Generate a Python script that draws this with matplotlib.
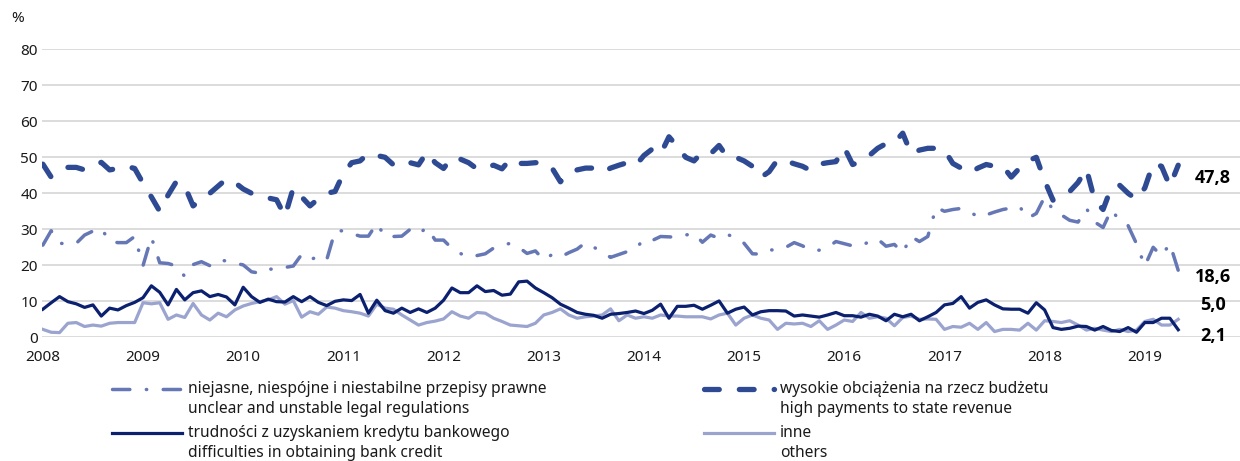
import matplotlib
matplotlib.use('Agg')
import matplotlib.pyplot as plt
from matplotlib.lines import Line2D
import numpy as np

plt.rcParams['font.family'] = ['Noto Sans', 'DejaVu Sans']

# monthly data, Jan 2008 - May 2019
years = list(range(2008, 2020))

niejasne = [25.6, 29.6, 26.1, 26.0, 26.1, 28.4, 29.5, 30.3, 26.6, 26.3, 26.3, 28.0,
            19.9, 27.8, 20.7, 20.5, 19.8, 16.9, 20.2, 21.0, 19.9, 21.5, 21.2, 20.6,
            20.1, 18.2, 17.8, 19.0, 18.8, 19.4, 19.8, 23.0, 21.5, 22.5, 21.5, 29.5,
            29.6, 28.8, 28.1, 28.1, 31.6, 28.0, 28.0, 28.1, 30.0, 28.7, 30.5, 27.0,
            27.0, 24.7, 23.3, 22.3, 22.7, 23.2, 24.8, 25.6, 26.1, 25.0, 23.3, 24.0,
            21.5, 23.0, 22.3, 23.5, 24.5, 26.3, 25.0, 23.8, 22.2, 23.0, 23.8, 24.6,
            27.2, 26.9, 28.0, 27.9, 27.8, 28.4, 28.9, 26.4, 28.4, 27.5, 28.5, 27.8,
            26.1, 23.2, 23.1, 24.3, 24.2, 25.0, 26.3, 25.4, 24.1, 24.2, 25.0, 26.6,
            26.0, 25.4, 25.4, 26.6, 27.3, 25.3, 25.8, 23.5, 28.0, 26.6, 28.0, 36.1,
            35.0, 35.5, 35.8, 35.0, 33.4, 34.0, 34.8, 35.5, 35.9, 36.3, 33.1, 34.4,
            39.0, 35.4, 34.0, 32.5, 32.0, 35.8, 32.0, 30.5, 35.5, 32.3, 31.0, 26.0,
            19.8, 25.0, 22.6, 26.0, 18.6]

wysokie = [48.1, 44.5, 46.0, 47.2, 47.2, 46.5, 47.5, 48.6, 46.5, 46.9, 47.5, 46.9,
           42.8, 39.0, 35.0, 39.5, 43.3, 42.0, 36.5, 38.3, 40.0, 42.0, 44.0, 43.0,
           41.2, 40.0, 39.3, 38.7, 38.2, 33.6, 41.5, 39.0, 36.5, 38.5, 40.0, 40.5,
           45.5, 48.5, 49.0, 51.1, 50.5, 50.0, 47.9, 49.0, 48.5, 47.9, 51.4, 48.5,
           46.9, 50.0, 49.5, 48.5, 46.8, 47.3, 47.8, 46.8, 49.5, 48.3, 48.3, 48.5,
           48.6, 47.0, 43.2, 45.7, 46.5, 47.0, 47.0, 45.8, 47.0, 47.8, 48.5, 47.7,
           50.5, 52.3, 50.9, 55.7, 53.0, 50.0, 49.0, 51.5, 51.0, 53.3, 50.0, 50.0,
           49.0, 47.5, 44.4, 46.0, 49.3, 49.0, 48.2, 47.5, 46.3, 48.1, 48.5, 48.8,
           52.7, 48.0, 48.8, 50.5, 52.5, 53.8, 54.1, 56.7, 51.0, 52.0, 52.5, 52.5,
           52.0, 48.3, 47.0, 45.6, 47.0, 48.0, 47.5, 47.5, 44.5, 47.0, 49.0, 50.0,
           43.5, 38.1, 39.0, 40.5, 43.0, 46.8, 38.0, 35.5, 41.7, 42.2, 40.0, 38.3,
           41.5, 48.3, 47.5, 42.0, 47.8]

kredyt = [7.8, 9.6, 11.3, 9.9, 9.3, 8.3, 9.0, 5.9, 8.1, 7.6, 8.8, 9.7,
          11.0, 14.3, 12.5, 9.0, 13.3, 10.4, 12.4, 12.9, 11.3, 11.9, 11.2, 9.0,
          13.9, 11.3, 9.7, 10.6, 9.9, 9.8, 11.3, 9.9, 11.3, 9.7, 8.8, 10.0,
          10.4, 10.2, 11.9, 6.7, 10.3, 7.4, 6.7, 8.1, 6.9, 7.9, 6.9, 8.1,
          10.3, 13.7, 12.4, 12.4, 14.3, 12.7, 13.0, 11.7, 12.0, 15.4, 15.6, 13.7,
          12.4, 11.0, 9.2, 8.1, 6.9, 6.4, 6.1, 5.3, 6.4, 6.6, 6.9, 7.3,
          6.6, 7.5, 9.2, 5.3, 8.6, 8.6, 8.9, 7.8, 8.9, 10.1, 6.7, 7.8,
          8.4, 6.2, 7.1, 7.4, 7.4, 7.3, 5.9, 6.2, 5.9, 5.6, 6.2, 6.9,
          6.0, 6.0, 5.6, 6.4, 5.9, 4.6, 6.4, 5.7, 6.4, 4.6, 5.7, 6.9,
          9.0, 9.4, 11.3, 8.1, 9.7, 10.4, 9.0, 7.9, 7.8, 7.8, 6.7, 9.6,
          7.6, 2.7, 2.2, 2.5, 3.1, 3.0, 2.0, 3.0, 1.9, 1.6, 2.7, 1.4,
          4.1, 4.1, 5.3, 5.3, 2.1]

inne = [2.2, 1.4, 1.3, 3.9, 4.1, 3.0, 3.4, 3.1, 3.9, 4.1, 4.1, 4.1,
        9.6, 9.3, 9.6, 5.0, 6.2, 5.5, 9.4, 6.2, 4.8, 6.7, 5.7, 7.6,
        8.7, 9.4, 9.9, 10.4, 11.3, 9.2, 10.2, 5.6, 7.1, 6.4, 8.4, 8.1,
        7.4, 7.1, 6.7, 5.9, 9.2, 8.1, 7.8, 6.2, 4.8, 3.4, 4.1, 4.5,
        5.1, 7.1, 5.9, 5.3, 6.9, 6.7, 5.3, 4.4, 3.4, 3.2, 3.0, 3.9,
        6.2, 6.9, 7.9, 6.2, 5.3, 5.7, 5.9, 6.2, 7.9, 4.6, 6.2, 5.3,
        5.7, 5.3, 6.2, 5.9, 5.9, 5.7, 5.7, 5.7, 5.1, 6.2, 6.7, 3.4,
        5.3, 6.2, 5.3, 4.8, 2.2, 3.9, 3.7, 3.9, 3.0, 4.6, 2.2, 3.4,
        4.8, 4.4, 6.9, 5.3, 5.7, 5.3, 3.2, 5.5, 5.9, 5.0, 5.1, 5.0,
        2.2, 3.0, 2.8, 3.9, 2.2, 4.1, 1.6, 2.2, 2.2, 2.0, 3.9, 2.0,
        4.6, 4.4, 4.1, 4.6, 3.4, 2.0, 2.5, 2.0, 1.6, 2.2, 1.6, 2.0,
        4.4, 5.0, 3.4, 3.4, 5.0]

labels_pl = ['niejasne, niespójne i niestabilne przepisy prawne',
             'wysokie obciążenia na rzecz budżetu',
             'trudności z uzyskaniem kredytu bankowego',
             'inne']
labels_en = ['unclear and unstable legal regulations',
             'high payments to state revenue',
             'difficulties in obtaining bank credit',
             'others']

C_NIEJ = '#6677b5'
C_WYS = '#2e4a93'
C_KRED = '#0b206f'
C_INNE = '#9aa4cf'
TXT = '#1a1a1a'

st_niej = dict(color=C_NIEJ, lw=2.5, ls=(0, (5, 4.75, 0.1, 4.75)), dash_capstyle='round', solid_capstyle='round')
st_wys = dict(color=C_WYS, lw=3.8, ls=(0, (2.8, 3.8)), dash_capstyle='round', solid_capstyle='round')
st_kred = dict(color=C_KRED, lw=2.3, solid_joinstyle='round')
st_inne = dict(color=C_INNE, lw=2.3, solid_joinstyle='round')

x = np.arange(len(kredyt))

fig = plt.figure(figsize=(12.4, 4.61), dpi=100)
ax = fig.add_axes([42 / 1240, 1 - 337.3 / 461, 1 - 42 / 1240, (337.3 - 49.3) / 461])

ax.plot(x, inne, **st_inne)
ax.plot(x, kredyt, **st_kred)
ax.plot(x, niejasne, **st_niej)
ax.plot(x, wysokie, **st_wys)

ax.set_xlim(-0.1, 143.4)
ax.set_ylim(0, 80)
ax.set_yticks(range(0, 81, 10))
ax.set_xticks([12 * k for k in range(len(years))])
ax.set_xticklabels([str(y) for y in years])
ax.yaxis.grid(True, color='#d9d9d9', lw=1.3)
ax.set_axisbelow(True)
for s in ax.spines.values():
    s.set_visible(False)
ax.tick_params(length=0, labelsize=11, colors=TXT)
ax.tick_params(axis='x', pad=9)
ax.tick_params(axis='y', pad=3)

fig.text(18 / 1240, 1 - 18 / 461, '%', ha='center', va='center', fontsize=11, color=TXT)

# end-of-series values
bold = dict(fontsize=13, fontweight='bold', va='center', color='black', family=['Open Sans', 'DejaVu Sans'])
last_x = x[-1] + 2.0
ax.text(last_x, 44.3, f'{wysokie[-1]:.1f}'.replace('.', ','), **bold)
ax.text(last_x, 16.8, f'{niejasne[-1]:.1f}'.replace('.', ','), **bold)
ax.text(last_x + 0.6, 9.0, f'{inne[-1]:.1f}'.replace('.', ','), **bold)
ax.text(last_x + 0.6, 0.4, f'{kredyt[-1]:.1f}'.replace('.', ','), **bold)

# legend, drawn by hand: 2 columns, handle next to first text line
styles = [st_niej, st_wys, st_kred, st_inne]
cols = [(112, 188), (704, 780), (112, 188), (704, 780)]
rows = [389, 389, 433, 433]
for st, (hx, tx), ry, pl, en in zip(styles, cols, rows, labels_pl, labels_en):
    fy = 1 - ry / 461
    fig.add_artist(Line2D([hx / 1240, (hx + 70) / 1240], [fy, fy], transform=fig.transFigure, **st))
    fig.text(tx / 1240, fy, pl, fontsize=11.2, va='center', color=TXT)
    fig.text(tx / 1240, 1 - (ry + 19.5) / 461, en, fontsize=11.2, va='center', color=TXT)

fig.savefig('out.png', dpi=100)
